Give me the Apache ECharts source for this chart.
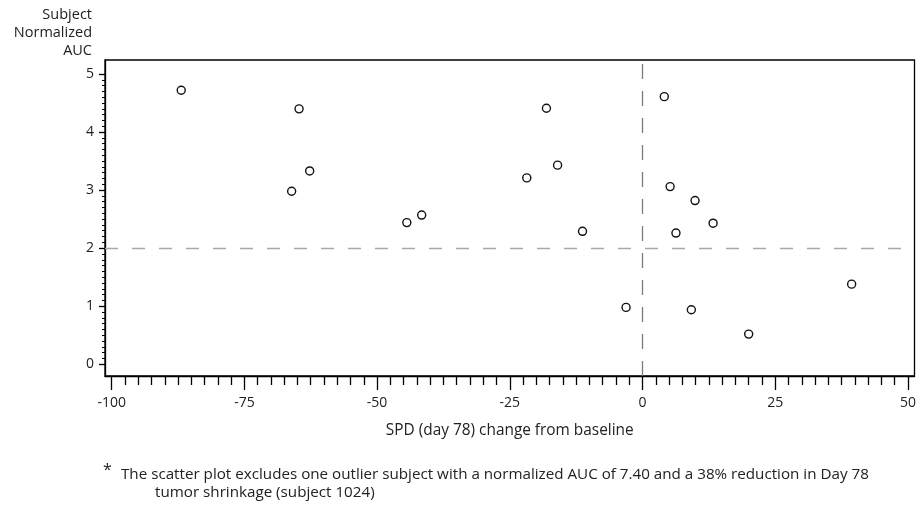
<!DOCTYPE html>
<html>
<head>
<meta charset="utf-8">
<script src="https://cdn.jsdelivr.net/npm/echarts@6/dist/echarts.min.js"></script>
<style>
html,body{margin:0;padding:0;background:#fff;}
#chart{width:921px;height:508px;}
</style>
</head>
<body>
<div id="chart"></div>
<script>
// ---- data ----
const spdChange = [-86.9, -64.7, -62.7, -66.1, -44.4, -41.6, -18.1, -16.0, -21.8, -11.3, -3.1, 4.1, 5.2, 9.9, 13.3, 6.3, 39.4, 9.2, 20.0];
const normAUC   = [4.72, 4.40, 3.33, 2.98, 2.44, 2.57, 4.41, 3.43, 3.21, 2.29, 0.98, 4.61, 3.06, 2.82, 2.43, 2.26, 1.38, 0.94, 0.52];
const xMajorTicks = [-100, -75, -50, -25, 0, 25, 50];
const yMajorTicks = [0, 1, 2, 3, 4, 5];
const refX = 0;
const refY = 2;
const xTitle = 'SPD (day 78) change from baseline';
const yTitle = 'Subject\nNormalized\nAUC';
const footStar = '*';
const footLine1 = 'The scatter plot excludes one outlier subject with a normalized AUC of 7.40 and a 38% reduction in Day 78';
const footLine2 = 'tumor shrinkage (subject 1024)';

// minor tick positions (every 2.5 on x, every 0.1 on y) built from the major ticks
const xMinorTicks = [];
for (let i = 0; i < xMajorTicks.length - 1; i++) {
  for (let k = 1; k < 10; k++) xMinorTicks.push(xMajorTicks[i] + k * 2.5);
}
const yMinorTicks = [];
for (let i = 0; i < yMajorTicks.length - 1; i++) {
  for (let k = 1; k < 10; k++) yMinorTicks.push(+(yMajorTicks[i] + k * 0.1).toFixed(2));
}

const X_MIN = -101.26, X_MAX = 51.24;
const Y_MIN = -0.202, Y_MAX = 5.241;
const FONT = '"Open Sans", "DejaVu Sans", sans-serif';
const TXT = '#222';

const chart = echarts.init(document.getElementById('chart'), null, {renderer: 'canvas'});

function xAxisBase(extra) {
  return Object.assign({
    type: 'value', position: 'bottom', min: X_MIN, max: X_MAX,
    splitLine: {show: false},
    axisLine: {show: false, onZero: false},
    axisTick: {show: false},
    axisLabel: {show: false}
  }, extra);
}
function yAxisBase(extra) {
  return Object.assign({
    type: 'value', position: 'left', min: Y_MIN, max: Y_MAX,
    splitLine: {show: false},
    axisLine: {show: false, onZero: false},
    axisTick: {show: false},
    axisLabel: {show: false}
  }, extra);
}

const data = spdChange.map((x, i) => [x, normAUC[i]]);

chart.setOption({
  animation: false,
  backgroundColor: '#fff',
  textStyle: {fontFamily: FONT},
  grid: {
    left: 105, right: 6.5, top: 60, bottom: 132,
    show: true, borderColor: '#000', borderWidth: 1.3, backgroundColor: 'transparent'
  },
  xAxis: [
    xAxisBase({
      axisLine: {show: true, onZero: false, lineStyle: {color: '#000', width: 1.3}},
      name: xTitle, nameLocation: 'middle', nameGap: 47,
      nameTextStyle: {color: TXT, fontSize: 15.4, fontFamily: FONT}
    }),
    xAxisBase({
      axisTick: {show: true, length: 9, customValues: xMinorTicks, lineStyle: {color: '#000', width: 1.3}}
    }),
    xAxisBase({
      axisTick: {show: true, length: 14, customValues: xMajorTicks, lineStyle: {color: '#000', width: 1.3}},
      axisLabel: {show: true, customValues: xMajorTicks, margin: 20, color: TXT, fontSize: 14, fontFamily: FONT}
    })
  ],
  yAxis: [
    yAxisBase({
      axisLine: {show: true, onZero: false, lineStyle: {color: '#000', width: 1.3}},
      name: yTitle, nameLocation: 'end', nameGap: 0,
      nameTextStyle: {color: TXT, fontSize: 14.5, fontFamily: FONT, align: 'right', verticalAlign: 'bottom',
                      lineHeight: 18, padding: [0, 13, 0, 0]}
    }),
    yAxisBase({
      axisTick: {show: true, length: 3, customValues: yMinorTicks, lineStyle: {color: '#000', width: 1}}
    }),
    yAxisBase({
      axisTick: {show: true, length: 6, customValues: yMajorTicks, lineStyle: {color: '#000', width: 1.3}},
      axisLabel: {show: true, customValues: yMajorTicks, margin: 11, color: TXT, fontSize: 14, fontFamily: FONT}
    })
  ],
  series: [{
    type: 'scatter',
    xAxisIndex: 0, yAxisIndex: 0,
    data: data,
    symbol: 'circle',
    symbolSize: 8,
    itemStyle: {color: '#fff', borderColor: '#111', borderWidth: 1.4, opacity: 1},
    emphasis: {disabled: true},
    markLine: {
      silent: true,
      symbol: 'none',
      label: {show: false},
      animation: false,
      data: [
        {xAxis: refX, lineStyle: {color: '#7a7a7a', type: [15, 12], width: 1.3}},
        {yAxis: refY, lineStyle: {color: '#a8a8a8', type: [13, 14], width: 1.3}}
      ]
    },
    z: 5
  }],
  graphic: [
    {type: 'text', left: 103, top: 462, style: {text: footStar, font: '16px ' + FONT, fill: TXT}},
    {type: 'text', left: 121, top: 467, style: {text: footLine1, font: '15.2px ' + FONT, fill: TXT}},
    {type: 'text', left: 155, top: 485, style: {text: footLine2, font: '15.2px ' + FONT, fill: TXT}}
  ]
});
</script>
</body>
</html>
